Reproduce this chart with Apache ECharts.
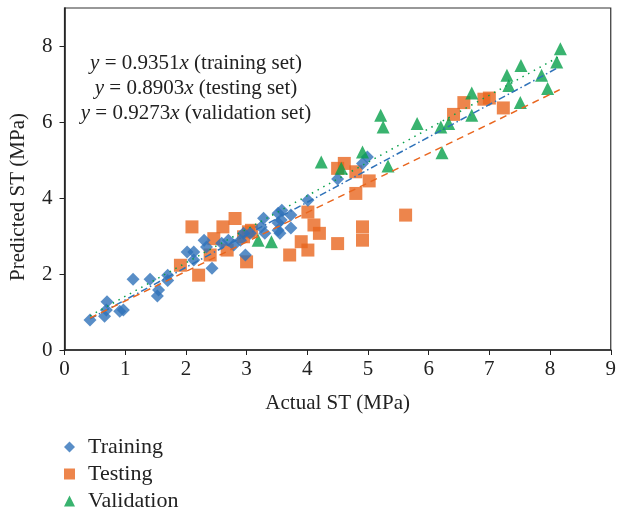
<!DOCTYPE html>
<html>
<head>
<meta charset="utf-8">
<script src="https://cdn.jsdelivr.net/npm/echarts@6/dist/echarts.min.js"></script>
<style>
  html, body { margin: 0; padding: 0; background: #fff; }
  #chart { width: 619px; height: 513px; }
</style>
</head>
<body>
<div id="chart"></div>
<script>
// 训练集 / 测试集 / 验证集 (actual, predicted)
const training = [
  [0.42, 0.79], [0.66, 0.89], [0.70, 1.27], [0.69, 1.05], [0.91, 1.02], [0.97, 1.05],
  [1.13, 1.86], [1.41, 1.86], [1.55, 1.58], [1.53, 1.42], [1.70, 1.97], [1.70, 1.83],
  [2.02, 2.58], [2.13, 2.58], [2.13, 2.37], [2.30, 2.89], [2.34, 2.71], [2.43, 2.15],
  [2.59, 2.81], [2.70, 2.89], [2.79, 2.76], [2.90, 2.89], [2.98, 2.50], [2.95, 3.07],
  [3.06, 3.07], [3.28, 3.47], [3.24, 3.24], [3.30, 3.07], [3.52, 3.60], [3.57, 3.42],
  [3.52, 3.15], [3.73, 3.55], [3.73, 3.21], [3.58, 3.68], [3.52, 3.34], [3.55, 3.07],
  [4.01, 3.94], [4.50, 4.50], [4.91, 4.91], [4.99, 5.08]
];
const testing = [
  [1.91, 2.23], [2.10, 3.24], [2.21, 1.97], [2.40, 2.50], [2.46, 2.93], [2.61, 3.24],
  [2.68, 2.63], [2.81, 3.46], [2.95, 2.98], [3.00, 2.32], [3.03, 3.11], [3.08, 3.15],
  [3.71, 2.50], [3.90, 2.85], [4.01, 3.63], [4.01, 2.63], [4.11, 3.29], [4.20, 3.07],
  [4.50, 2.80], [4.91, 3.24], [4.91, 2.89], [4.80, 4.12], [5.02, 4.45], [5.62, 3.55],
  [4.80, 4.69], [4.61, 4.91], [4.50, 4.78], [6.41, 6.20], [6.58, 6.51], [6.91, 6.60],
  [7.00, 6.63], [7.23, 6.37]
];
const validation = [
  [3.19, 2.89], [3.41, 2.85], [4.23, 4.95], [4.56, 4.78], [4.91, 5.21], [5.33, 4.84],
  [5.21, 6.18], [5.25, 5.87], [5.81, 5.96], [6.22, 5.19], [6.20, 5.87], [6.33, 5.96],
  [6.71, 6.76], [6.71, 6.18], [7.29, 7.23], [7.32, 6.96], [7.52, 7.49], [7.51, 6.51],
  [7.86, 7.23], [7.96, 6.88], [8.11, 7.58], [8.17, 7.93]
];
// 拟合线端点
const trainingFit = [[0.42, 0.82], [8.12, 7.42]];
const testingFit = [[0.42, 0.84], [8.16, 6.85]];
const validationFit = [[0.42, 0.90], [8.15, 7.72]];
const equations = [
  ["0.9351", "training set"],
  ["0.8903", "testing set"],
  ["0.9273", "validation set"]
];

const blue = "#2f72b9";
const orange = "#e9661f";
const green = "#08a04b";
const font = "Liberation Serif";

const mChart = echarts.init(document.getElementById("chart"));

const eqText = equations
  .map((e) => `{i|y} = ${e[0]}{i|x} (${e[1]})`)
  .join("\n");

const option = {
  animation: false,
  textStyle: { fontFamily: font, color: "#222" },
  grid: {
    left: 64.5,
    right: 3.5,
    top: 8,
    bottom: 163,
    show: true,
    borderColor: "#333",
    borderWidth: 1.2,
  },
  legend: {
    orient: "vertical",
    left: 64,
    top: 436,
    height: 90,
    padding: 0,
    itemGap: 5,
    itemWidth: 11,
    itemHeight: 11,
    textStyle: {
      fontFamily: font,
      fontSize: 22,
      color: "#222",
      padding: [0, 0, 0, 8],
    },
    data: [
      { name: "Training", icon: "diamond" },
      { name: "Testing", icon: "rect" },
      { name: "Validation", icon: "triangle" },
    ],
  },
  graphic: [
    {
      type: "text",
      x: 196,
      y: 51,
      style: {
        text: eqText,
        fontFamily: font,
        fontSize: 21,
        lineHeight: 25,
        align: "center",
        fill: "#222",
        rich: {
          i: { fontFamily: font, fontStyle: "italic", fontSize: 21 },
        },
      },
    },
    {
      type: "text",
      x: 18,
      y: 197,
      rotation: Math.PI / 2,
      style: {
        text: "Predicted ST (MPa)",
        fontFamily: font,
        fontSize: 21,
        align: "center",
        verticalAlign: "middle",
        fill: "#222",
      },
    },
  ],
  xAxis: {
    type: "value",
    min: 0,
    max: 9,
    interval: 1,
    name: "Actual ST (MPa)",
    nameLocation: "middle",
    nameGap: 43,
    nameTextStyle: { fontFamily: font, fontSize: 21, color: "#222" },
    splitLine: { show: false },
    axisLine: { lineStyle: { color: "#222", width: 1.6 } },
    axisTick: { length: 5, lineStyle: { color: "#222" } },
    axisLabel: { fontFamily: font, fontSize: 21, color: "#222", margin: 9 },
  },
  yAxis: {
    type: "value",
    min: 0,
    max: 9,
    interval: 2,
    splitLine: { show: false },
    axisLine: { lineStyle: { color: "#222", width: 1.6 } },
    axisTick: { length: 5, lineStyle: { color: "#222" } },
    axisLabel: {
      fontFamily: font,
      fontSize: 21,
      color: "#222",
      margin: 12,
      showMaxLabel: false,
    },
  },
  series: [
    {
      name: "Training",
      type: "scatter",
      symbol: "diamond",
      symbolSize: 13,
      itemStyle: { color: blue },
      data: training,
      z: 3,
    },
    {
      name: "Testing",
      type: "scatter",
      symbol: "rect",
      symbolSize: 13,
      itemStyle: { color: orange },
      data: testing,
      z: 2,
    },
    {
      name: "Validation",
      type: "scatter",
      symbol: "triangle",
      symbolSize: 13,
      itemStyle: { color: green },
      data: validation,
      z: 4,
    },
    {
      type: "line",
      data: trainingFit,
      symbol: "none",
      lineStyle: { color: blue, width: 1.5, type: [7, 3, 1.5, 3] },
      z: 5,
    },
    {
      type: "line",
      data: testingFit,
      symbol: "none",
      lineStyle: { color: orange, width: 1.5, type: [7, 5] },
      z: 5,
    },
    {
      type: "line",
      data: validationFit,
      symbol: "none",
      lineStyle: { color: green, width: 1.5, type: [1.5, 5] },
      z: 5,
    },
  ],
};
mChart.setOption(option);
</script>
</body>
</html>
